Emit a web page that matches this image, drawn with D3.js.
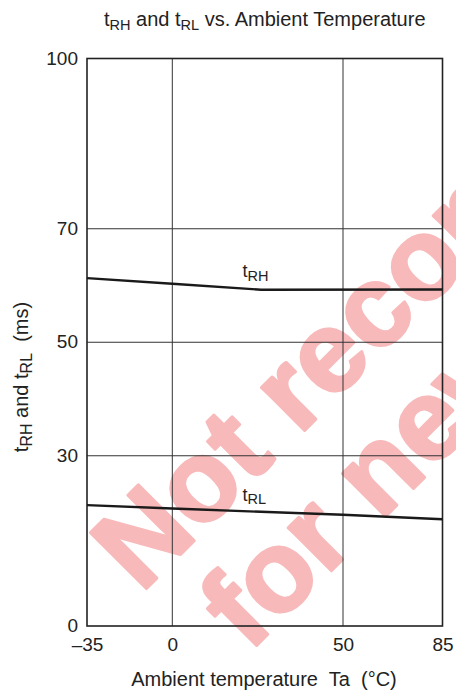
<!DOCTYPE html>
<html>
<head>
<meta charset="utf-8">
<script src="https://cdn.jsdelivr.net/npm/d3@7"></script>
<style>
  html, body { margin: 0; padding: 0; background: #fff; }
  svg { display: block; }
  text { font-family: "Liberation Sans", Arial, sans-serif; }
</style>
</head>
<body>
<script>
// ---- data ----
const xTicks = [-35, 0, 50, 85];
const xTickLabels = ["\u201335", "0", "50", "85"];
const yTicks = [0, 30, 50, 70, 100];
const yTickLabels = ["0", "30", "50", "70", "100"];
const tRH_temp = [-35, 0, 26, 85];
const tRH_ms = [61.3, 60.3, 59.25, 59.3];
const tRL_temp = [-35, 0, 50, 85];
const tRL_ms = [21.3, 20.7, 19.6, 18.8];

const W = 456, H = 694;
const svg = d3.select("body").append("svg").attr("width", W).attr("height", H);

// non-uniform axis as in the original figure
const x = d3.scaleLinear().domain(xTicks).range([87, 172.3, 343, 442.5]);
const y = d3.scaleLinear().domain([0, 100]).range([626, 58.5]);

// watermark (under the grid)
const wm = svg.append("g").attr("fill", "#f8b9ba").attr("stroke", "#f8b9ba")
  .attr("stroke-width", 3).attr("stroke-linejoin", "round").attr("font-weight", "bold")
  .style("font-size", "115px");
wm.append("text").attr("transform", "translate(141,594) rotate(-45)").text("Not recommended");
wm.append("text").attr("transform", "translate(249,653) rotate(-45)").text("for new design");

// grid
const g = svg.append("g");
g.selectAll(".vg").data(xTicks.slice(1, -1)).join("line")
  .attr("x1", d => x(d)).attr("x2", d => x(d)).attr("y1", y(0)).attr("y2", y(100))
  .attr("stroke", "#333").attr("stroke-width", 1);
g.selectAll(".hg").data(yTicks.slice(1, -1)).join("line")
  .attr("x1", x(-35)).attr("x2", x(85)).attr("y1", d => y(d)).attr("y2", d => y(d))
  .attr("stroke", "#333").attr("stroke-width", 1);

// axes (labels only)
const xAxis = d3.axisBottom(x).tickValues(xTicks).tickSize(0).tickPadding(12)
  .tickFormat((d, i) => xTickLabels[i]);
svg.append("g").attr("transform", `translate(0,${y(0)})`).call(xAxis)
  .call(s => s.select(".domain").remove())
  .call(s => s.selectAll("text").style("font-size", "19px").attr("fill", "#222")
    .attr("font-family", null));
const yAxis = d3.axisLeft(y).tickValues(yTicks).tickSize(0).tickPadding(9)
  .tickFormat((d, i) => yTickLabels[i]);
svg.append("g").attr("transform", `translate(${x(-35)},0)`).call(yAxis)
  .call(s => s.select(".domain").remove())
  .call(s => s.selectAll("text").style("font-size", "19px").attr("fill", "#222")
    .attr("font-family", null).attr("dy", "0.3em"));

// frame
svg.append("rect").attr("x", x(-35)).attr("y", y(100))
  .attr("width", x(85) - x(-35)).attr("height", y(0) - y(100))
  .attr("fill", "none").attr("stroke", "#222").attr("stroke-width", 1.6);

// lines
const line = d3.line().x(d => x(d[0])).y(d => y(d[1]));
svg.append("path").datum(tRH_temp.map((t, i) => [t, tRH_ms[i]])).attr("d", line)
  .attr("fill", "none").attr("stroke", "#1a1a1a").attr("stroke-width", 2.4);
svg.append("path").datum(tRL_temp.map((t, i) => [t, tRL_ms[i]])).attr("d", line)
  .attr("fill", "none").attr("stroke", "#1a1a1a").attr("stroke-width", 2.4);

// helper for t_sub text
function tsub(sel, parts, shift, subSize) {
  parts.forEach(p => {
    const ts = sel.append("tspan").text(p[0]);
    if (p[1] === "sub") ts.style("font-size", subSize + "px").attr("dy", shift);
    else if (p[1] === "up") ts.attr("dy", -shift);
  });
}

// line labels
const l1 = svg.append("text").attr("x", 242.5).attr("y", 277).attr("fill", "#222").style("font-size", "18px");
tsub(l1, [["t"], ["RH", "sub"]], 3.6, 14.5);
const l2 = svg.append("text").attr("x", 242.5).attr("y", 500.5).attr("fill", "#222").style("font-size", "18px");
tsub(l2, [["t"], ["RL", "sub"]], 3.6, 14.5);

// title
const title = svg.append("text").attr("x", (x(-35) + x(85)) / 2).attr("y", 26)
  .attr("text-anchor", "middle").attr("fill", "#222").style("font-size", "20px")
  .style("white-space", "pre");
tsub(title, [["t"], ["RH", "sub"], [" and t", "up"], ["RL", "sub"], [" vs. Ambient Temperature", "up"]], 4, 14.5);

// x axis title
svg.append("text").attr("x", 264).attr("y", 686).attr("text-anchor", "middle")
  .attr("fill", "#222").style("font-size", "20px").style("white-space", "pre")
  .text("Ambient temperature  Ta  (\u00B0C)");

// y axis title
const yt = svg.append("text").attr("transform", "translate(28,377) rotate(-90)")
  .attr("text-anchor", "middle").attr("fill", "#222").style("font-size", "20px")
  .style("white-space", "pre");
tsub(yt, [["t"], ["RH", "sub"], [" and t", "up"], ["RL", "sub"], ["  (ms)", "up"]], 4, 16);
</script>
</body>
</html>
